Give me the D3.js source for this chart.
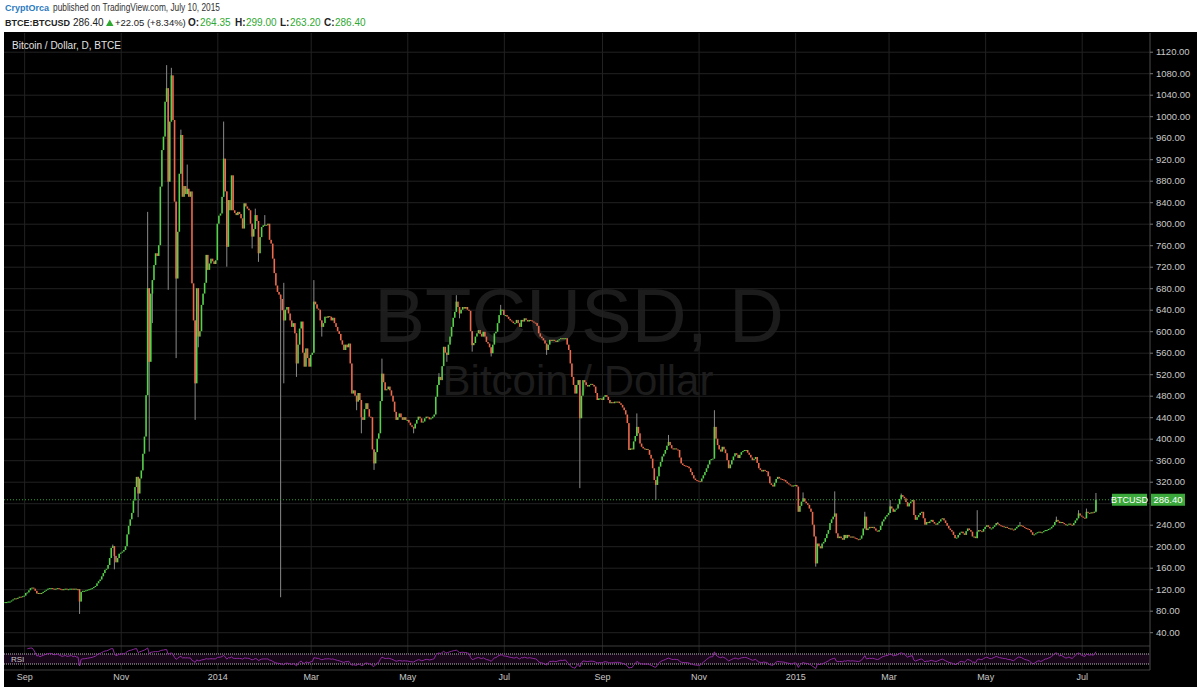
<!DOCTYPE html>
<html>
<head>
<meta charset="utf-8">
<script src="https://cdn.jsdelivr.net/npm/d3@7"></script>
<style>
  body { margin: 0; background: #fff; }
  svg { display: block; font-family: "Liberation Sans", Arial, sans-serif; }
</style>
</head>
<body>
<svg id="chart" width="1200" height="691"></svg>
<script>
// daily closes, BTCE:BTCUSD, one array per month (first bar 2013-08-20)
var c2013_08 = [96, 96, 97, 97, 99, 101, 103, 102, 104, 106, 105, 107];
var c2013_09 = [108, 113, 114, 118, 122, 123, 121, 117, 112, 113, 111, 113, 115, 117, 119, 121, 122, 122, 121, 120, 121, 122, 121, 120, 119, 120, 121, 120, 120, 121];
var c2013_10 = [121, 120, 121, 120, 120, 97, 115, 117, 117, 118, 119, 120, 121, 122, 124, 126, 131, 135, 138, 144, 150, 156, 158, 165, 178, 197, 200, 182, 170, 178, 186];
var c2013_11 = [188, 190, 193, 200, 222, 238, 250, 262, 285, 310, 329, 298, 326, 341, 372, 404, 481, 680, 543, 670, 695, 723, 745, 740, 760, 869, 937, 962, 1027, 1052];
var c2013_12 = [878, 990, 1076, 993, 841, 698, 785, 893, 965, 850, 870, 855, 865, 850, 860, 689, 620, 503, 680, 590, 600, 649, 670, 690, 742, 714, 726, 735, 730, 725, 732];
var c2014_01 = [800, 815, 819, 850, 921, 860, 757, 844, 825, 890, 825, 820, 816, 822, 818, 810, 791, 838, 832, 828, 825, 800, 776, 790, 816, 805, 745, 775, 794, 797, 798];
var c2014_02 = [797, 800, 770, 763, 735, 708, 685, 673, 668, 660, 639, 620, 640, 645, 633, 620, 608, 615, 596, 540, 575, 605, 618, 560, 534, 568, 550, 534];
var c2014_03 = [556, 560, 655, 650, 642, 640, 620, 608, 615, 627, 625, 628, 627, 620, 625, 615, 608, 600, 595, 583, 575, 565, 575, 570, 577, 540, 484, 490, 480, 469, 485];
var c2014_04 = [472, 440, 435, 455, 466, 455, 441, 440, 380, 354, 375, 400, 410, 470, 521, 505, 490, 492, 497, 490, 480, 469, 450, 435, 440, 447, 440, 435, 440, 435];
var c2014_05 = [435, 430, 425, 422, 419, 428, 435, 441, 438, 430, 432, 438, 441, 440, 436, 438, 441, 445, 478, 500, 515, 509, 535, 571, 560, 556, 575, 590, 608, 625, 636];
var c2014_06 = [655, 645, 633, 640, 645, 642, 645, 640, 638, 600, 574, 578, 590, 596, 602, 595, 590, 599, 590, 580, 577, 570, 559, 575, 596, 599, 615, 630, 640, 640];
var c2014_07 = [630, 630, 627, 623, 620, 618, 615, 615, 621, 615, 608, 621, 618, 624, 621, 618, 621, 620, 618, 616, 615, 610, 596, 590, 587, 583, 577, 565, 575, 584, 582];
var c2014_08 = [584, 582, 580, 583, 585, 587, 585, 587, 587, 575, 565, 540, 515, 500, 484, 500, 509, 438, 480, 509, 505, 500, 497, 500, 502, 500, 497, 485, 472, 475, 475];
var c2014_09 = [472, 478, 481, 478, 472, 466, 468, 466, 469, 468, 469, 466, 463, 458, 453, 445, 429, 379, 382, 380, 395, 405, 422, 410, 391, 385, 382, 380, 381, 379];
var c2014_10 = [370, 363, 345, 323, 314, 330, 348, 357, 367, 372, 379, 387, 394, 388, 382, 380, 382, 380, 379, 365, 354, 351, 350, 349, 348, 345, 338, 332, 326, 323, 322];
var c2014_11 = [321, 320, 326, 332, 338, 345, 352, 360, 362, 363, 422, 400, 388, 380, 376, 385, 380, 373, 360, 345, 352, 360, 367, 373, 370, 364, 370, 375, 377, 379];
var c2014_12 = [379, 374, 370, 365, 360, 362, 366, 355, 345, 342, 339, 342, 340, 339, 330, 317, 314, 311, 318, 325, 329, 326, 325, 324, 323, 320, 317, 315, 313, 311, 313];
var c2015_01 = [314, 311, 264, 275, 283, 289, 283, 280, 277, 270, 264, 240, 218, 168, 205, 200, 196, 205, 208, 215, 223, 230, 243, 250, 255, 261, 224, 215, 218, 215, 212];
var c2015_02 = [221, 215, 221, 218, 216, 218, 216, 215, 213, 212, 214, 220, 233, 255, 230, 233, 236, 234, 236, 233, 229, 227, 230, 238, 246, 250, 255, 258];
var c2015_03 = [262, 274, 270, 264, 268, 270, 278, 288, 295, 292, 289, 282, 274, 280, 283, 286, 258, 249, 254, 258, 262, 264, 252, 240, 245, 243, 246, 249, 245, 242, 240];
var c2015_04 = [243, 246, 250, 252, 248, 243, 238, 233, 230, 227, 221, 215, 216, 221, 225, 227, 224, 221, 228, 233, 230, 227, 218, 218, 215, 227, 230, 228, 227, 232];
var c2015_05 = [236, 239, 236, 233, 233, 236, 239, 243, 241, 239, 238, 237, 236, 236, 234, 233, 233, 231, 230, 233, 236, 239, 239, 238, 236, 234, 233, 232, 230, 226, 221];
var c2015_06 = [222, 224, 226, 227, 225, 226, 228, 230, 230, 232, 233, 236, 239, 245, 249, 246, 243, 245, 243, 241, 239, 240, 242, 240, 239, 243, 248, 252, 261, 257];
var c2015_07 = [255, 253, 252, 264, 262, 261, 263, 262, 264.35, 286.4];

var firstOpen = 96;

// wick extremes that stick out past the bodies
var wickHigh = [
  ['2013-10-27', 203], ['2013-11-18', 822], ['2013-11-30', 1095], ['2013-12-03', 1090],
  ['2013-12-09', 975], ['2013-12-13', 910], ['2014-01-05', 990], ['2014-01-25', 828],
  ['2014-01-31', 816], ['2014-02-12', 690], ['2014-03-03', 695], ['2014-04-15', 549],
  ['2014-05-21', 522], ['2014-06-01', 667], ['2014-06-29', 649], ['2014-09-23', 447],
  ['2014-10-13', 407], ['2014-11-11', 453], ['2015-01-06', 300], ['2015-01-26', 302],
  ['2015-02-14', 264], ['2015-03-02', 286], ['2015-03-09', 298], ['2015-04-26', 267],
  ['2015-05-09', 245], ['2015-05-23', 245], ['2015-06-15', 255], ['2015-06-29', 267],
  ['2015-07-04', 270], ['2015-07-10', 299]
];
var wickLow = [
  ['2013-10-06', 74], ['2013-10-28', 157], ['2013-11-12', 254], ['2013-11-19', 376],
  ['2013-11-21', 615], ['2013-12-01', 677], ['2013-12-06', 550], ['2013-12-18', 435],
  ['2013-12-20', 570], ['2014-01-07', 720], ['2014-01-23', 754], ['2014-01-27', 729],
  ['2014-02-10', 105], ['2014-02-12', 503], ['2014-02-20', 515], ['2014-03-08', 590],
  ['2014-03-30', 453], ['2014-04-02', 410], ['2014-04-10', 342], ['2014-05-05', 410],
  ['2014-05-26', 543], ['2014-06-03', 624], ['2014-06-11', 562], ['2014-06-23', 553],
  ['2014-07-28', 556], ['2014-08-18', 308], ['2014-10-05', 286], ['2015-01-14', 162],
  ['2015-07-10', 263.2]
];

var priceTicks = d3.range(40, 1121, 40);
var rsiLevels = [70, 30];

var closes = [].concat(c2013_08, c2013_09, c2013_10, c2013_11, c2013_12,
  c2014_01, c2014_02, c2014_03, c2014_04, c2014_05, c2014_06, c2014_07, c2014_08,
  c2014_09, c2014_10, c2014_11, c2014_12, c2015_01, c2015_02, c2015_03, c2015_04,
  c2015_05, c2015_06, c2015_07);

var start = new Date(Date.UTC(2013, 7, 20));
var iso = d3.utcFormat('%Y-%m-%d');
var highMap = new Map(wickHigh), lowMap = new Map(wickLow);

var bars = closes.map(function(c, i) {
  var o = i === 0 ? firstOpen : closes[i - 1];
  var date = d3.utcDay.offset(start, i);
  var key = iso(date);
  return {
    date: date, open: o, close: c,
    high: highMap.has(key) ? highMap.get(key) : Math.max(o, c),
    low: lowMap.has(key) ? lowMap.get(key) : Math.min(o, c)
  };
});

// Wilder RSI(14) of the closes
var computeRsi = function(values, n) {
  var out = [], gain = 0, loss = 0;
  for (var i = 1; i < values.length; i++) {
    var ch = values[i] - values[i - 1];
    var g = Math.max(ch, 0), l = Math.max(-ch, 0);
    if (i <= n) { gain += g / n; loss += l / n; }
    else { gain = (gain * (n - 1) + g) / n; loss = (loss * (n - 1) + l) / n; }
    if (i >= n) out.push({ date: bars[i].date, v: loss === 0 ? 100 : 100 - 100 / (1 + gain / loss) });
  }
  return out;
};
var rsi = computeRsi(closes, 14);

var plotLeft = 4, plotRight = 1150, plotTop = 33, paneBottom = 646, rsiBottom = 670;
var upColor = '#55d14a', downColor = '#ef6a4c', gridColor = '#222';

var x = d3.scaleUtc()
  .domain([new Date(Date.UTC(2014, 0, 1)), new Date(Date.UTC(2015, 6, 1))])
  .range([217.3, 1081.7]);
var y = d3.scaleLinear().domain([0, 1120]).range([653.7, 51.7]);
var yRsi = d3.scaleLinear().domain([0, 100]).range([671.5, 646.5]);

var monthTicks = d3.utcMonths(new Date(Date.UTC(2013, 8, 1)), new Date(Date.UTC(2015, 7, 2)), 2);
var monthFormat = function(d) {
  return d.getUTCMonth() === 0 ? String(d.getUTCFullYear()) : d3.utcFormat('%b')(d);
};

var last = bars[bars.length - 1];

var svg = d3.select('#chart');

svg.append('rect').attr('x', plotLeft).attr('y', 32).attr('width', 1193).attr('height', 655).attr('fill', '#000');

// header
svg.append('text').attr('x', 5).attr('y', 11).attr('font-size', 9).attr('font-weight', 'bold')
  .attr('fill', '#2b7bbf').text('CryptOrca');
svg.append('text').attr('x', 53).attr('y', 11).attr('font-size', 10).attr('fill', '#333')
  .attr('textLength', 167).attr('lengthAdjust', 'spacingAndGlyphs').text('published on TradingView.com, July 10, 2015');

var head2 = [
  { t: 'BTCE:BTCUSD', x: 5, s: 9, b: true, c: '#222' },
  { t: '286.40', x: 73, s: 10, c: '#222' },
  { t: '+22.05 (+8.34%)', x: 115, s: 9.5, c: '#222' },
  { t: 'O:', x: 188, s: 10, b: true, c: '#222' },
  { t: '264.35', x: 200, s: 10, c: '#2fa82f' },
  { t: 'H:', x: 235, s: 10, b: true, c: '#222' },
  { t: '299.00', x: 246, s: 10, c: '#2fa82f' },
  { t: 'L:', x: 280, s: 10, b: true, c: '#222' },
  { t: '263.20', x: 290, s: 10, c: '#2fa82f' },
  { t: 'C:', x: 324, s: 10, b: true, c: '#222' },
  { t: '286.40', x: 335, s: 10, c: '#2fa82f' }
];
svg.selectAll('.head2').data(head2).enter().append('text')
  .attr('x', function(d) { return d.x; }).attr('y', 26)
  .attr('font-size', function(d) { return d.s; })
  .attr('font-weight', function(d) { return d.b ? 'bold' : 'normal'; })
  .attr('fill', function(d) { return d.c; })
  .text(function(d) { return d.t; });
svg.append('path').attr('d', 'M106,26 L113.5,26 L109.75,19.5 Z').attr('fill', '#2fa82f');

// watermark
svg.append('text').attr('x', 579).attr('y', 342).attr('text-anchor', 'middle')
  .attr('font-size', 76).attr('fill', '#1c1c1c').text('BTCUSD, D');
svg.append('text').attr('x', 578).attr('y', 395).attr('text-anchor', 'middle')
  .attr('font-size', 42).attr('fill', '#1c1c1c').text('Bitcoin / Dollar');

// grid
svg.append('g').attr('transform', 'translate(0,' + rsiBottom + ')')
  .call(d3.axisBottom(x).tickValues(monthTicks).tickSize(-(rsiBottom - plotTop)).tickFormat(''))
  .call(function(g) { g.select('.domain').remove(); g.selectAll('line').attr('stroke', gridColor); });
svg.append('g').attr('transform', 'translate(' + plotLeft + ',0)')
  .call(d3.axisLeft(y).tickValues(priceTicks).tickSize(-(plotRight - plotLeft)).tickFormat(''))
  .call(function(g) { g.select('.domain').remove(); g.selectAll('line').attr('stroke', gridColor); });

svg.append('text').attr('x', 12).attr('y', 49).attr('font-size', 10).attr('fill', '#e2e2e2')
  .attr('textLength', 109).attr('lengthAdjust', 'spacingAndGlyphs').text('Bitcoin / Dollar, D, BTCE');

// candles
svg.append('clipPath').attr('id', 'plotclip').append('rect')
  .attr('x', plotLeft).attr('y', plotTop).attr('width', plotRight - plotLeft).attr('height', paneBottom - plotTop);
var plot = svg.append('g').attr('clip-path', 'url(#plotclip)');

plot.selectAll('.wick').data(bars.filter(function(d) {
  return d.high > Math.max(d.open, d.close) || d.low < Math.min(d.open, d.close);
})).enter().append('line')
  .attr('x1', function(d) { return x(d.date); }).attr('x2', function(d) { return x(d.date); })
  .attr('y1', function(d) { return y(d.high); }).attr('y2', function(d) { return y(d.low); })
  .attr('stroke', '#8a8a8a').attr('stroke-width', 1);

plot.selectAll('.body').data(bars).enter().append('rect')
  .attr('x', function(d) { return x(d.date) - 0.8; })
  .attr('width', 1.6)
  .attr('y', function(d) { return y(Math.max(d.open, d.close)); })
  .attr('height', function(d) { return Math.max(1, Math.abs(y(d.open) - y(d.close))); })
  .attr('fill', function(d) { return d.close >= d.open ? upColor : downColor; });

// last price line
svg.append('line').attr('x1', plotLeft).attr('x2', plotRight).attr('y1', y(last.close)).attr('y2', y(last.close))
  .attr('stroke', '#2ea52e').attr('stroke-dasharray', '1,2');

// RSI pane
svg.append('rect').attr('x', plotLeft).attr('width', plotRight - plotLeft)
  .attr('y', yRsi(70)).attr('height', yRsi(30) - yRsi(70)).attr('fill', '#170719');
svg.selectAll('.rsilevel').data(rsiLevels).enter().append('line')
  .attr('x1', plotLeft).attr('x2', plotRight)
  .attr('y1', function(d) { return yRsi(d); }).attr('y2', function(d) { return yRsi(d); })
  .attr('stroke', '#bbb').attr('stroke-dasharray', '1,1');
svg.append('clipPath').attr('id', 'rsiclip').append('rect')
  .attr('x', plotLeft).attr('y', paneBottom).attr('width', plotRight - plotLeft).attr('height', rsiBottom - paneBottom);
svg.append('path').datum(rsi).attr('clip-path', 'url(#rsiclip)')
  .attr('d', d3.line().x(function(d) { return x(d.date); }).y(function(d) { return yRsi(d.v); }))
  .attr('fill', 'none').attr('stroke', '#8f2aa0').attr('stroke-width', 1);
svg.append('text').attr('x', 11).attr('y', 662).attr('font-size', 8).attr('fill', '#ccc').text('RSI');

// pane borders
svg.append('line').attr('x1', plotLeft).attr('x2', plotRight).attr('y1', paneBottom).attr('y2', paneBottom).attr('stroke', '#3c3c3c');
svg.append('line').attr('x1', plotLeft).attr('x2', plotRight).attr('y1', rsiBottom).attr('y2', rsiBottom).attr('stroke', '#3c3c3c');
svg.append('line').attr('x1', plotRight).attr('x2', plotRight).attr('y1', plotTop).attr('y2', rsiBottom).attr('stroke', '#4a4a4a');

// axes; the price tag covers the 280 label, as in the original
var tagY = y(last.close) - 6;
var gy = svg.append('g').attr('transform', 'translate(' + plotRight + ',0)')
  .call(d3.axisRight(y).tickValues(priceTicks.filter(function(v) { return Math.abs(y(v) - y(last.close)) > 8; }))
    .tickFormat(d3.format('.2f')).tickSize(3).tickPadding(3));
gy.select('.domain').remove();
gy.selectAll('line').attr('stroke', '#777');
gy.selectAll('text').attr('fill', '#c8c8c8').attr('font-size', 9.5).attr('font-family', '"Liberation Sans", Arial, sans-serif');

var gx = svg.append('g').attr('transform', 'translate(0,' + rsiBottom + ')')
  .call(d3.axisBottom(x).tickValues(monthTicks).tickFormat(monthFormat).tickSize(0).tickPadding(4));
gx.select('.domain').remove();
gx.selectAll('text').attr('fill', '#c8c8c8').attr('font-size', 9).attr('font-family', '"Liberation Sans", Arial, sans-serif');

// symbol / price tag
svg.append('rect').attr('x', 1112).attr('y', tagY).attr('width', 35).attr('height', 12).attr('fill', '#3aa83a');
svg.append('rect').attr('x', 1151).attr('y', tagY).attr('width', 34).attr('height', 12).attr('fill', '#3aa83a');
svg.append('text').attr('x', 1129.5).attr('y', tagY + 9).attr('text-anchor', 'middle')
  .attr('font-size', 9).attr('fill', '#fff').text('BTCUSD');
svg.append('text').attr('x', 1168).attr('y', tagY + 9).attr('text-anchor', 'middle')
  .attr('font-size', 9.5).attr('fill', '#fff').text(d3.format('.2f')(last.close));
</script>
</body>
</html>
